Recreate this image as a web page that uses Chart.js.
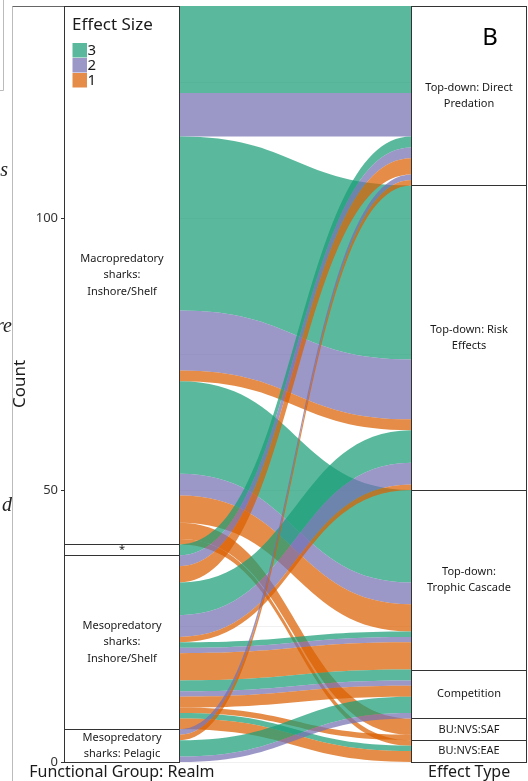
<!DOCTYPE html>
<html lang="en">
<head>
<meta charset="UTF-8">
<title>Alluvial: Functional Group vs Effect Type</title>
<script src="https://cdn.jsdelivr.net/npm/chart.js"></script>
<style>
  html, body { margin: 0; padding: 0; background: #fff; }
</style>
</head>
<body>
<canvas id="myChart" width="528" height="781"></canvas>
<script>
// strata on each axis, listed top to bottom
const leftStrata = ["Macropredatory\nsharks:\nInshore/Shelf", "*", "Mesopredatory\nsharks:\nInshore/Shelf", "Mesopredatory\nsharks: Pelagic"];
const rightStrata = ["Top-down: Direct\nPredation", "Top-down: Risk\nEffects", "Top-down:\nTrophic Cascade", "Competition", "BU:NVS:SAF", "BU:NVS:EAE"];
const axisNames = ["Functional Group: Realm", "Effect Type"];
const effectSizes = ["3", "2", "1"];
const sizeColors = ["rgba(27,158,119,0.72)", "rgba(117,112,179,0.72)", "rgba(217,95,2,0.72)"];
const yTicks = [0, 25, 50, 75, 100, 125];

// one entry per flow: left stratum, right stratum, effect size (index), count
const flowFrom  = [0, 0, 0, 0, 0, 0, 0, 0, 0, 0,  1,  2, 2, 2, 2, 2, 2, 2, 2, 2, 2, 2, 2, 2, 2,  3, 3, 3, 3];
const flowTo    = [0, 0, 1, 1, 1, 2, 2, 2, 4, 5,  0,  0, 0, 1, 1, 1, 2, 2, 2, 3, 3, 3, 4, 5, 5,  0, 0, 3, 3];
const flowSize  = [0, 1, 0, 1, 2, 0, 1, 2, 2, 2,  0,  1, 2, 0, 1, 2, 0, 1, 2, 0, 1, 2, 2, 0, 2,  1, 2, 0, 1];
const flowCount = [16, 8, 32, 11, 2, 17, 4, 5, 3, 1,  2,  2, 3, 6, 4, 1, 1, 1, 5, 2, 1, 2, 1, 1, 2,  1, 1, 3, 1];

const total = flowCount.reduce((s, v) => s + v, 0);

// stack the lodes: by stratum, then by the stratum on the other axis, then by effect size
const idx = flowCount.map((_, i) => i);
const leftOrder = idx.slice().sort((a, b) => flowFrom[a] - flowFrom[b] || flowTo[a] - flowTo[b] || flowSize[a] - flowSize[b]);
const rightOrder = idx.slice().sort((a, b) => flowTo[a] - flowTo[b] || flowFrom[a] - flowFrom[b] || flowSize[a] - flowSize[b]);
const leftTop = [], rightTop = [];
let acc = total;
leftOrder.forEach(i => { leftTop[i] = acc; acc -= flowCount[i]; });
acc = total;
rightOrder.forEach(i => { rightTop[i] = acc; acc -= flowCount[i]; });

function strataRanges(names, key, tops) {
    return names.map((n, s) => {
        let hi = -1, sum = 0;
        idx.forEach(i => { if (key[i] === s) { hi = Math.max(hi, tops[i]); sum += flowCount[i]; } });
        return { name: n, hi: hi, lo: hi - sum };
    });
}
const leftRanges = strataRanges(leftStrata, flowFrom, leftTop);
const rightRanges = strataRanges(rightStrata, flowTo, rightTop);

const FONT = "'Noto Sans', 'DejaVu Sans', sans-serif";

const alluvialPlugin = {
    id: 'alluvial',
    afterDatasetsDraw(chart) {
        const ctx = chart.ctx;
        const xs = chart.scales.x, ys = chart.scales.y;
        const xL = xs.getPixelForValue(1), xR = xs.getPixelForValue(3), xm = (xL + xR) / 2;
        ctx.save();

        // flows
        idx.forEach(i => {
            const lt = ys.getPixelForValue(leftTop[i]), lb = ys.getPixelForValue(leftTop[i] - flowCount[i]);
            const rt = ys.getPixelForValue(rightTop[i]), rb = ys.getPixelForValue(rightTop[i] - flowCount[i]);
            ctx.beginPath();
            ctx.moveTo(xL, lt);
            ctx.bezierCurveTo(xm, lt, xm, rt, xR, rt);
            ctx.lineTo(xR, rb);
            ctx.bezierCurveTo(xm, rb, xm, lb, xL, lb);
            ctx.closePath();
            ctx.fillStyle = sizeColors[flowSize[i]];
            ctx.fill();
        });

        // strata boxes and labels
        function drawStrata(ranges, x0v, x1v) {
            const x0 = Math.round(xs.getPixelForValue(x0v)) + 0.5;
            const x1 = Math.round(xs.getPixelForValue(x1v)) - 0.5;
            ranges.forEach(r => {
                const yt = Math.round(ys.getPixelForValue(r.hi)) + 0.5;
                const yb = Math.round(ys.getPixelForValue(r.lo)) + 0.5;
                ctx.fillStyle = '#fff';
                ctx.fillRect(x0, yt, x1 - x0, yb - yt);
                ctx.strokeStyle = '#333';
                ctx.lineWidth = 1;
                ctx.strokeRect(x0, yt, x1 - x0, yb - yt);
                const lines = r.name.split('\n');
                const yc = ys.getPixelForValue((r.hi + r.lo) / 2);
                ctx.fillStyle = '#1a1a1a';
                ctx.font = '11px ' + FONT;
                ctx.textAlign = 'center';
                ctx.textBaseline = 'middle';
                lines.forEach((t, k) => {
                    ctx.fillText(t, (x0 + x1) / 2, yc + (k - (lines.length - 1) / 2) * 16.5);
                });
            });
        }
        drawStrata(leftRanges, 0, 1);
        drawStrata(rightRanges, 3, 4);

        // legend
        ctx.textAlign = 'left';
        ctx.textBaseline = 'alphabetic';
        ctx.fillStyle = '#1a1a1a';
        ctx.font = '17px ' + FONT;
        ctx.fillText('Effect Size', 72, 30);
        effectSizes.forEach((s, k) => {
            const ky = 43 + k * 15;
            ctx.fillStyle = '#fff';
            ctx.fillRect(72.5, ky, 14.5, 14.5);
            ctx.fillStyle = sizeColors[k];
            ctx.fillRect(72.5, ky, 14.5, 14.5);
            ctx.fillStyle = '#1a1a1a';
            ctx.font = '15px ' + FONT;
            ctx.textBaseline = 'middle';
            ctx.fillText(s, 87.5, ky + 7.5);
            ctx.textBaseline = 'alphabetic';
        });

        // panel tag
        ctx.font = '24px ' + FONT;
        ctx.textAlign = 'center';
        ctx.fillStyle = '#000';
        ctx.fillText('B', 490, 45);

        // frame and cut-off text of the neighbouring panel
        ctx.strokeStyle = '#bbb';
        ctx.beginPath();
        ctx.moveTo(12.5, 6.5); ctx.lineTo(12.5, 781);
        ctx.moveTo(3.5, 0); ctx.lineTo(3.5, 90.5); ctx.lineTo(0, 90.5);
        ctx.stroke();
        ctx.strokeStyle = '#666';
        ctx.beginPath();
        ctx.moveTo(12.5, 6.5); ctx.lineTo(64, 6.5);
        ctx.stroke();
        ctx.font = 'italic 20px "Liberation Serif", serif';
        ctx.textAlign = 'right';
        ctx.fillStyle = '#222';
        ctx.fillText('s', 8, 176);
        ctx.fillText('re', 12, 332);
        ctx.fillText('d', 12, 511);
        ctx.restore();
    }
};

const ctx = document.getElementById("myChart").getContext("2d");
const myChart = new Chart(ctx, {
    type: 'scatter',
    data: { datasets: [] },
    options: {
        responsive: false,
        maintainAspectRatio: false,
        animation: false,
        devicePixelRatio: 1,
        layout: { padding: { top: 6, right: 1, bottom: 0, left: 0 } },
        plugins: { legend: { display: false }, tooltip: { enabled: false } },
        scales: {
            x: {
                type: 'linear', min: 0, max: 4,
                grid: { display: false, drawTicks: false },
                border: { display: false },
                afterBuildTicks: s => { s.ticks = [{ value: 0.5 }, { value: 3.5 }]; },
                afterFit: s => { s.height = 19; s.paddingLeft = 0; s.paddingRight = 0; },
                ticks: {
                    autoSkip: false, maxRotation: 0, padding: 1,
                    color: '#1a1a1a', font: { family: FONT, size: 16 },
                    callback: v => v < 2 ? axisNames[0] : axisNames[1]
                }
            },
            y: {
                type: 'linear', min: 0, max: total,
                border: { display: false },
                grid: {
                    color: '#f0f0f0', tickLength: 3,
                    tickColor: c => (c.tick && c.tick.value % 50 === 0) ? '#333' : 'rgba(0,0,0,0)'
                },
                afterBuildTicks: s => { s.ticks = yTicks.map(v => ({ value: v })); },
                afterFit: s => { s.width = 64; s.paddingTop = 0; s.paddingBottom = 0; },
                ticks: {
                    padding: 3, color: '#333', font: { family: FONT, size: 13 },
                    callback: v => v % 50 === 0 ? v : ''
                },
                title: {
                    display: true, text: 'Count', color: '#1a1a1a',
                    font: { family: FONT, size: 17 }, padding: { top: 10, bottom: 0 }
                }
            }
        }
    },
    plugins: [alluvialPlugin]
});
</script>
</body>
</html>
